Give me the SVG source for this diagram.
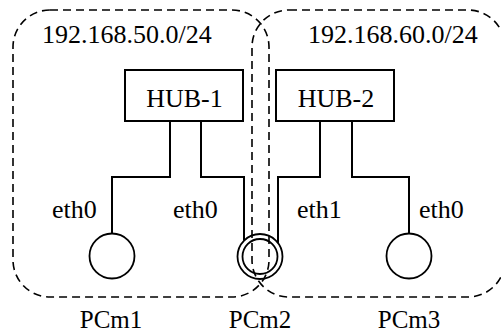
<svg xmlns="http://www.w3.org/2000/svg" width="501" height="333" viewBox="0 0 501 333">
<style>
.net{fill:none;stroke:#000;stroke-width:1.6;stroke-dasharray:8 5}
.box{fill:#fff;stroke:#000;stroke-width:2}
.pc{fill:none;stroke:#000;stroke-width:1.8}
.wire{fill:none;stroke:#000;stroke-width:2}
.c{text-anchor:middle}
</style>
<rect width="501" height="333" fill="#fff"/>
<g font-family="Liberation Serif, Times New Roman, Times, DejaVu Serif, Noto Serif, serif" font-size="26" fill="#000">
<g id="net50">
<rect class="net" x="13" y="10" width="256" height="287" rx="37" ry="37"/>
<text x="42" y="43">192.168.50.0/24</text>
</g>
<g id="net60">
<rect class="net" x="252" y="10" width="253" height="287" rx="37" ry="37"/>
<text x="308" y="43">192.168.60.0/24</text>
</g>
<g id="connectors">
<polyline class="wire" points="170,121 170,177 112,177 112,233.5"/>
<polyline class="wire" points="201,121 201,177 244,177 244,240.5"/>
<polyline class="wire" points="320,121 320,177 278,177 278,243"/>
<polyline class="wire" points="352,121 352,177 409,177 409,233.5"/>
<text x="52" y="218">eth0</text>
<text x="173" y="218">eth0</text>
<text x="297" y="218">eth1</text>
<text x="419" y="218">eth0</text>
</g>
<g id="hub1">
<rect class="box" x="125" y="70" width="118" height="51"/>
<text class="c" x="184.5" y="107">HUB-1</text>
</g>
<g id="hub2">
<rect class="box" x="276" y="70" width="118" height="51"/>
<text class="c" x="336" y="107">HUB-2</text>
</g>
<g id="pcm1">
<circle class="pc" cx="112" cy="256" r="22.5"/>
<text class="c" x="111" y="328" font-size="25">PCm1</text>
</g>
<g id="pcm2">
<circle class="pc" cx="260" cy="256.5" r="22.5"/>
<circle class="pc" cx="260" cy="256.5" r="17.5"/>
<text class="c" x="260" y="328" font-size="25">PCm2</text>
</g>
<g id="pcm3">
<circle class="pc" cx="409" cy="256" r="22.5"/>
<text class="c" x="409" y="328" font-size="25">PCm3</text>
</g>
</g>
</svg>
